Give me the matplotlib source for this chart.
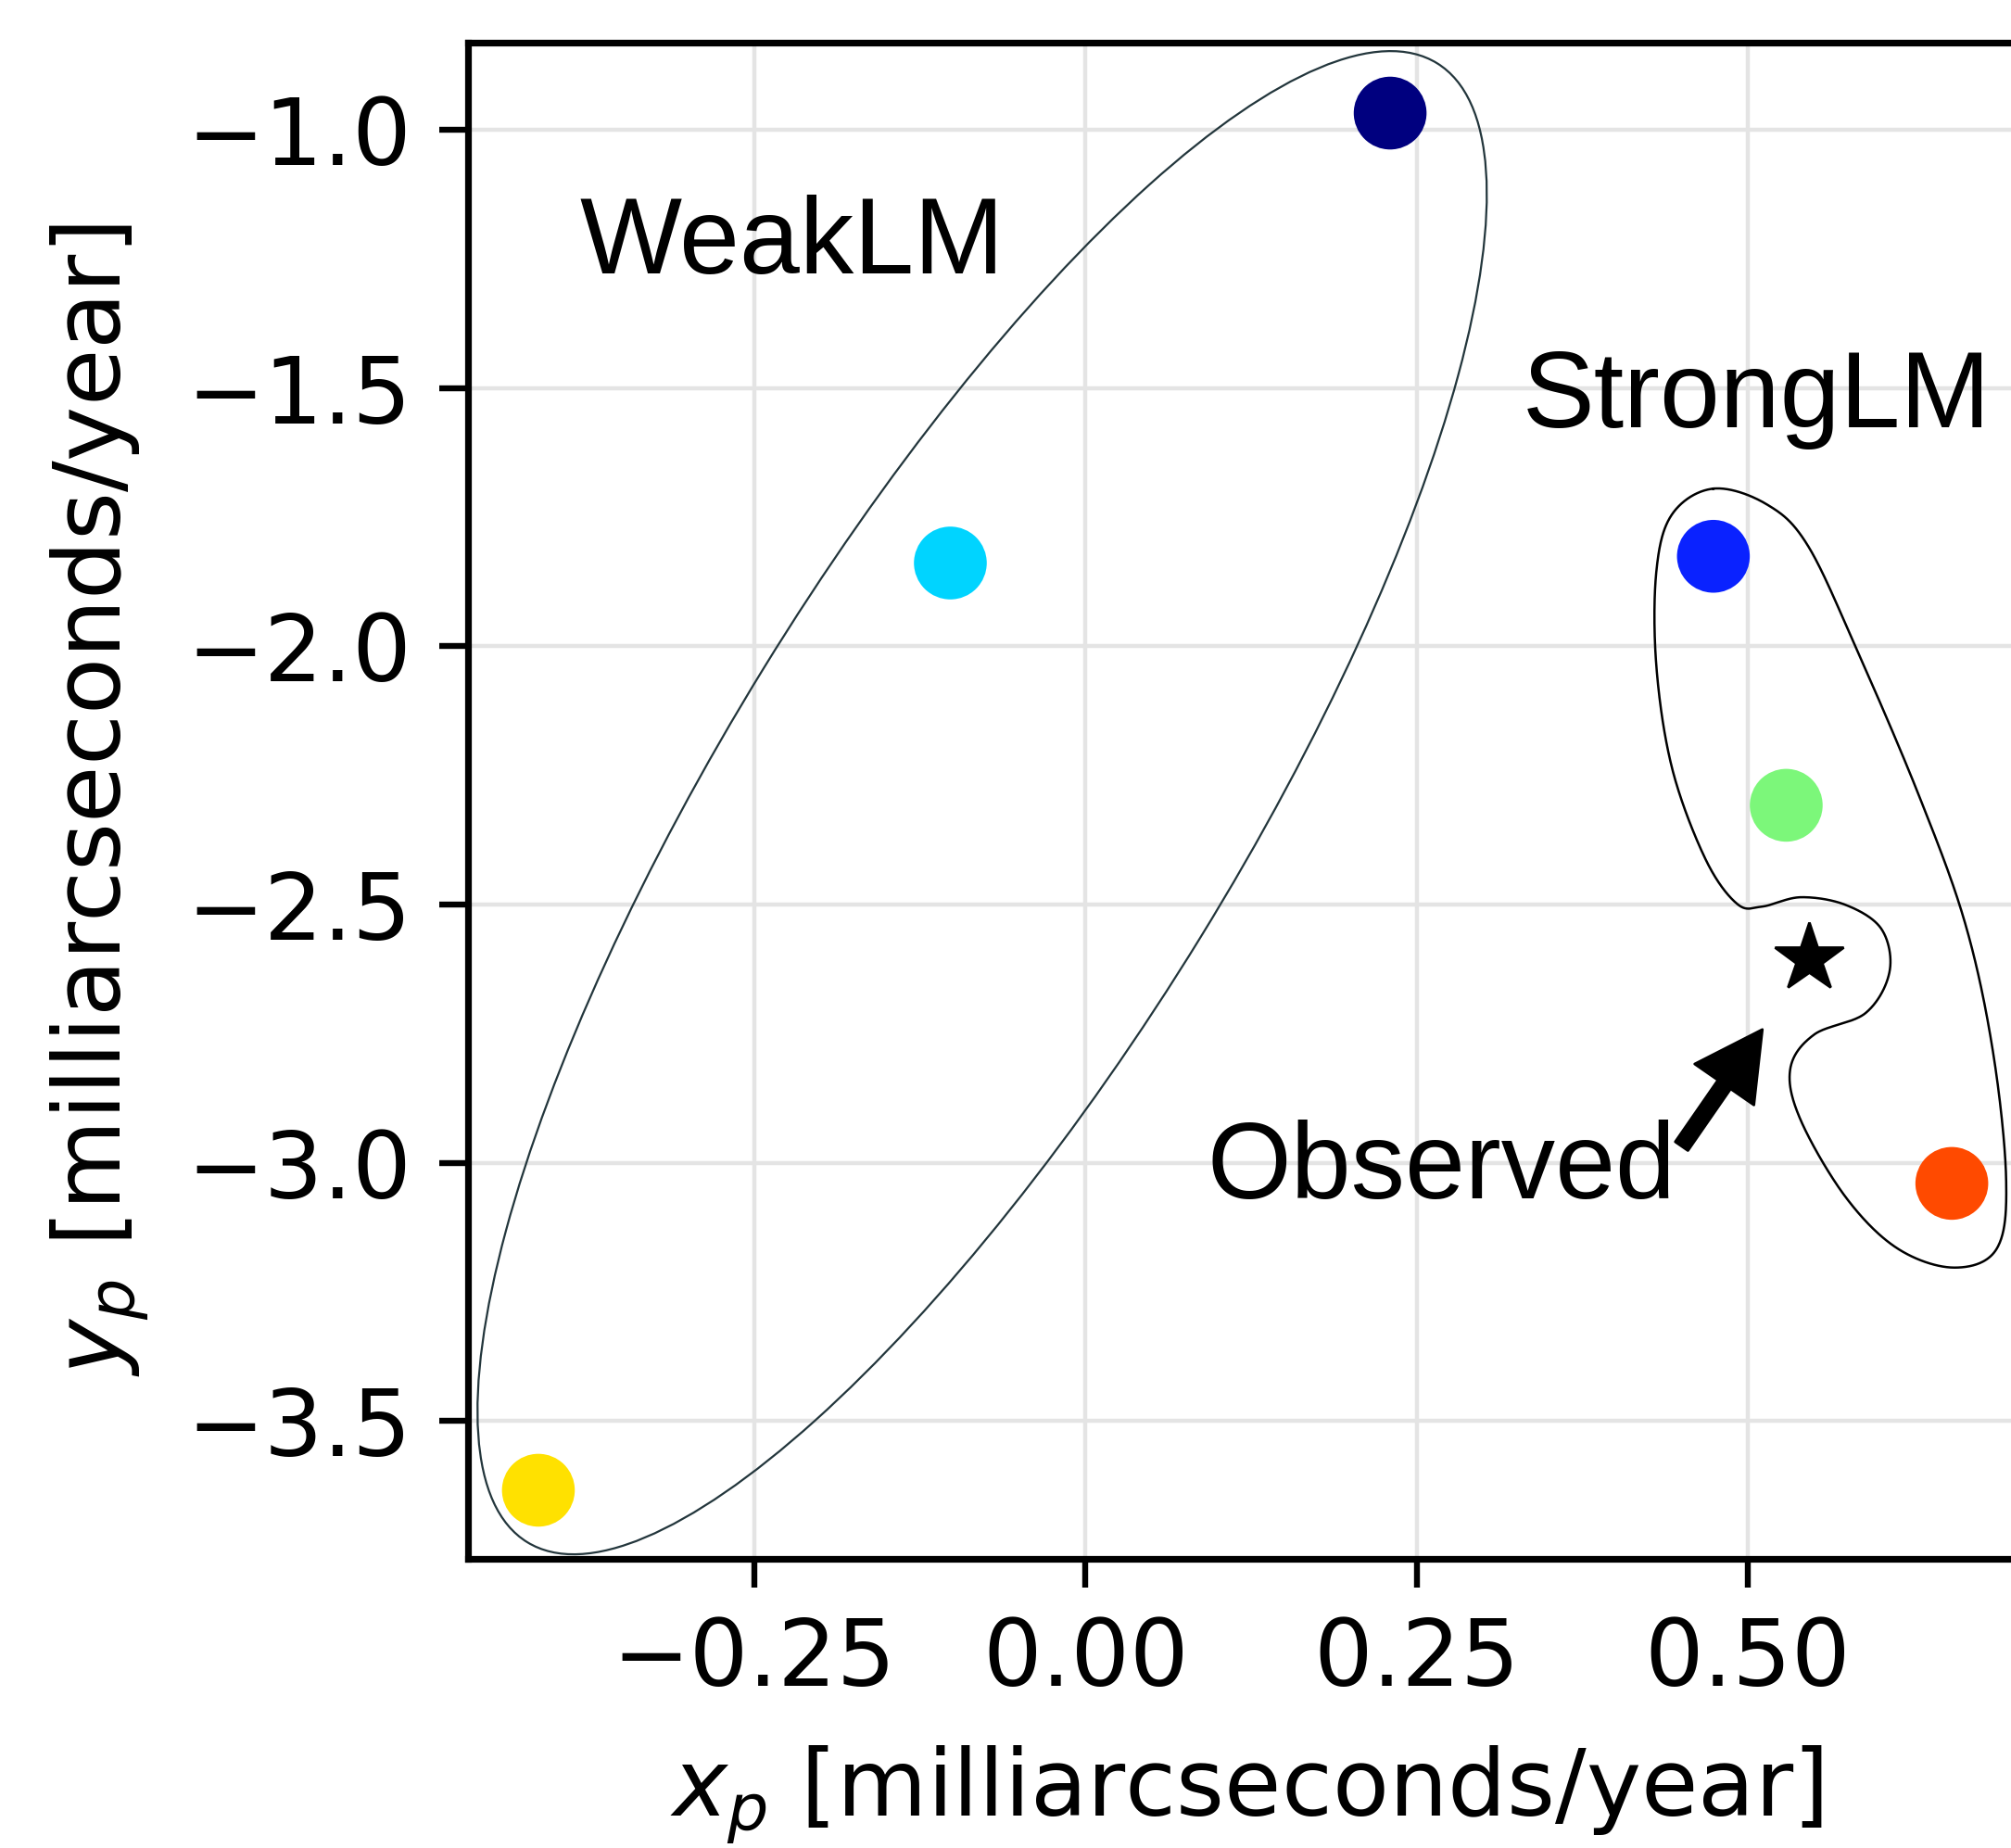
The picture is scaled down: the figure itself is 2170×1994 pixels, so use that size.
import numpy as np
import matplotlib
matplotlib.use("Agg")
import matplotlib.pyplot as plt
from matplotlib.patches import Ellipse
from matplotlib.transforms import ScaledTranslation

# ---- proper-motion predictions per model ----
model_x = [0.230, -0.102, -0.413, 0.474, 0.529, 0.654]
model_y = [-0.968, -1.839, -3.634, -1.826, -2.308, -3.040]
model_colors = ["#00007f", "#00d4ff", "#ffe100", "#0a22ff", "#7cf77a", "#ff4a00"]

# observed value
obs_x = [0.546]
obs_y = [-2.605]

# axis settings
x_ticks = [-0.25, 0.00, 0.25, 0.50]
y_ticks = [-1.0, -1.5, -2.0, -2.5, -3.0, -3.5]
x_lim = (-0.466, 0.709)
y_lim = (-3.766, -0.831)

# WeakLM group outline: centre (data), semi-axes (inches), angle (deg)
weak_center = (-0.078, -2.303)
weak_semi_axes = (4.684, 1.384)
weak_angle = 58.4

# StrongLM group outline control points (data)
strong_x = [0.474, 0.514, 0.545, 0.582, 0.629, 0.664, 0.685, 0.695, 0.688,
            0.656, 0.613, 0.574, 0.540, 0.532, 0.550, 0.589, 0.607, 0.601,
            0.574, 0.540, 0.511, 0.492, 0.468, 0.443, 0.431, 0.431, 0.443]
strong_y = [-1.695, -1.725, -1.804, -2.005, -2.288, -2.536, -2.784, -3.032,
            -3.166, -3.203, -3.166, -3.067, -2.918, -2.819, -2.752, -2.710,
            -2.630, -2.548, -2.501, -2.486, -2.504, -2.499, -2.412, -2.238,
            -2.040, -1.854, -1.744]


def closed_catmull_rom(xs, ys, n=40):
    pts = np.column_stack([xs, ys])
    m = len(pts)
    out = []
    t = np.linspace(0, 1, n, endpoint=False)[:, None]
    for i in range(m):
        p0, p1, p2, p3 = pts[(i - 1) % m], pts[i], pts[(i + 1) % m], pts[(i + 2) % m]
        seg = 0.5 * ((2 * p1) + (-p0 + p2) * t + (2 * p0 - 5 * p1 + 4 * p2 - p3) * t ** 2
                     + (-p0 + 3 * p1 - 3 * p2 + p3) * t ** 3)
        out.append(seg)
    out = np.vstack(out + [pts[:1]])
    return out[:, 0], out[:, 1]


fig = plt.figure(figsize=(10.85, 9.97), dpi=200)
ax = fig.add_axes([0.2328, 0.1567, 0.774, 0.8204])

ax.set_xlim(*x_lim)
ax.set_ylim(*y_lim)
ax.set_xticks(x_ticks)
ax.set_yticks(y_ticks)
ax.grid(True, color="#e4e4e4", linewidth=1.6, zorder=0)
ax.set_axisbelow(True)

for s in ax.spines.values():
    s.set_linewidth(2.6)
ax.tick_params(axis="both", length=11, width=2.3, pad=11, labelsize=36)

ax.scatter(model_x, model_y, s=800, c=model_colors, zorder=3, linewidths=0)
ax.plot(obs_x, obs_y, marker="*", color="black", markersize=28, linestyle="none", zorder=4)

# group outlines
tr = fig.dpi_scale_trans + ScaledTranslation(weak_center[0], weak_center[1], ax.transData)
ax.add_patch(Ellipse((0, 0), width=2 * weak_semi_axes[0], height=2 * weak_semi_axes[1],
                     angle=weak_angle, transform=tr, fill=False,
                     edgecolor="#23363c", linewidth=0.8, zorder=2))
bx, by = closed_catmull_rom(strong_x, strong_y)
ax.plot(bx, by, color="black", linewidth=0.9, zorder=2)

label_font = ["Liberation Sans", "DejaVu Sans"]
ax.text(-0.382, -1.278, "WeakLM", fontsize=42, family=label_font, zorder=5)
ax.text(0.330, -1.576, "StrongLM", fontsize=42, family=label_font, zorder=5)
ax.text(0.092, -3.069, "Observed", fontsize=42, family=label_font, zorder=5)
ax.annotate("", xy=(0.511, -2.742), xytext=(0.450, -2.968),
            arrowprops=dict(facecolor="black", edgecolor="black", width=6,
                            headwidth=28, headlength=26, shrink=0.0), zorder=5)

ax.set_xlabel("$x_p$ [milliarcseconds/year]", fontsize=36, labelpad=15)
ax.set_ylabel("$y_p$ [milliarcseconds/year]", fontsize=36, labelpad=14)

fig.savefig("out.png", dpi=200)
